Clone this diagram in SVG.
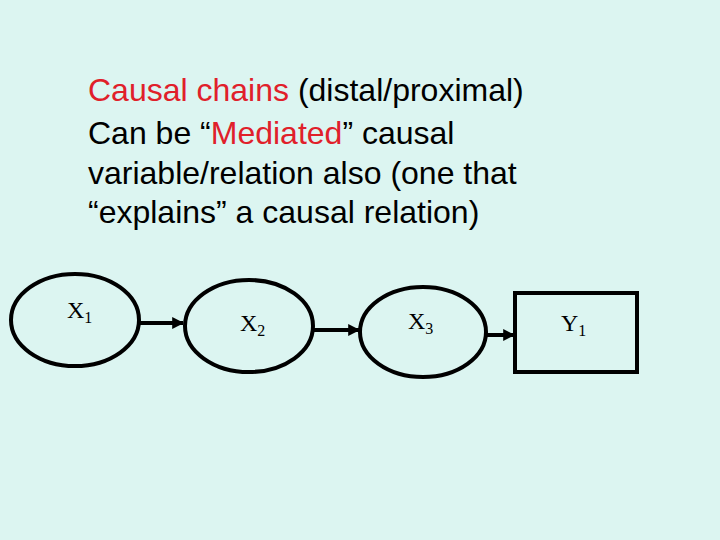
<svg xmlns="http://www.w3.org/2000/svg" width="720" height="540" viewBox="0 0 720 540">
<defs>
<style>
.body{font-family:"Liberation Sans",Arial,sans-serif;font-size:32px;fill:#000}
.red{fill:#e0202a}
.node{fill:none;stroke:#000;stroke-width:4}
.lbl{font-family:"Liberation Serif","Times New Roman",serif;font-size:24px;fill:#000}
.sub{font-size:16px}
.conn{stroke:#000;stroke-width:4;fill:none}
</style>
<marker id="ah" viewBox="0 0 10 10" refX="9" refY="5" markerWidth="3" markerHeight="3" orient="auto" markerUnits="strokeWidth">
<path d="M0,0 L10,5 L0,10 z" fill="#000"/>
</marker>
</defs>
<rect width="720" height="540" fill="#dcf5f1"/>
<g id="text">
<text class="body" x="88" y="101"><tspan class="red">Causal chains</tspan> (distal/proximal)</text>
<text class="body" x="88" y="144">Can be “<tspan class="red">Mediated</tspan>” causal</text>
<text class="body" x="88" y="184">variable/relation also (one that</text>
<text class="body" x="88" y="223">“explains” a causal relation)</text>
</g>
<g id="connectors">
<line class="conn" x1="139" y1="323" x2="183" y2="323" marker-end="url(#ah)"/>
<line class="conn" x1="313" y1="330" x2="359" y2="330" marker-end="url(#ah)"/>
<line class="conn" x1="487" y1="335" x2="514" y2="335" marker-end="url(#ah)"/>
</g>
<g id="X1">
<ellipse class="node" cx="75" cy="320" rx="64" ry="46"/>
<text class="lbl" x="67" y="318">X<tspan class="sub" dy="5">1</tspan></text>
</g>
<g id="X2">
<ellipse class="node" cx="249" cy="326" rx="64" ry="46"/>
<text class="lbl" x="240" y="331">X<tspan class="sub" dy="5">2</tspan></text>
</g>
<g id="X3">
<ellipse class="node" cx="423" cy="332" rx="63" ry="45"/>
<text class="lbl" x="408" y="329">X<tspan class="sub" dy="5">3</tspan></text>
</g>
<g id="Y1">
<rect class="node" x="515" y="293" width="122" height="79"/>
<text class="lbl" x="561" y="331">Y<tspan class="sub" dy="5">1</tspan></text>
</g>
</svg>
